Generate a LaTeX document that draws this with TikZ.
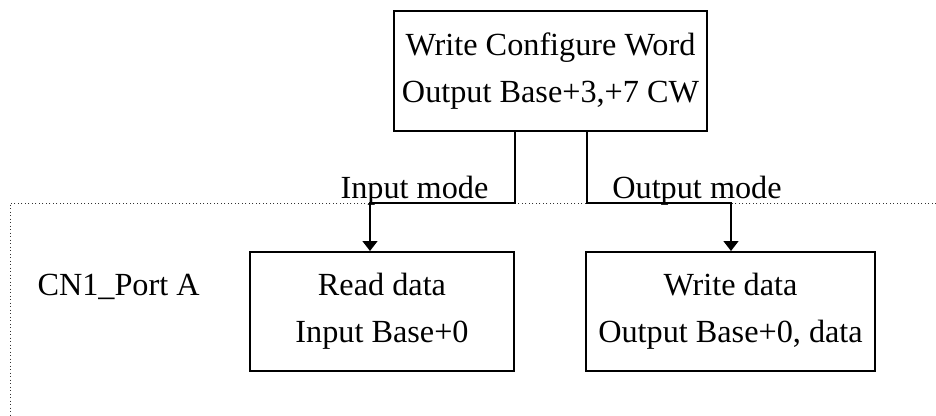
\documentclass[tikz,border=0pt]{standalone}
\usepackage{fontspec}
\setmainfont{Liberation Serif}
\usetikzlibrary{arrows.meta}
\tikzset{
  >={Triangle[length=4pt,width=6pt]},
  x=0.4pt, y=-0.4pt,
}
\tikzstyle{every node}=[font=\fontsize{12.9}{18.8}\selectfont]
\tikzstyle{block}=[draw, line width=0.8pt, align=center, inner sep=0pt]
\tikzstyle{wire}=[line width=0.6pt]
\tikzstyle{region}=[line width=0.4pt, densely dotted, black!80]

\begin{document}
\begin{tikzpicture}
    \useasboundingbox (0,0) rectangle (936,415);
    \draw[region] (936,203) -- (10,203) -- (10,415);
    \node[block, minimum width=125.2pt, minimum height=48pt] (cw) at (550.5,71)
        {Write Configure Word\\Output Base+3,+7 CW};
    \node[block, minimum width=105.6pt, minimum height=47.6pt] (rd) at (382,311.5)
        {Read data\\Input Base+0};
    \node[block, minimum width=115.6pt, minimum height=47.6pt] (wr) at (730.5,311.5)
        {Write data\\Output Base+0, data};
    \node[anchor=base west, inner sep=0pt] (port) at (37,295) {CN1\_Port A};
    \coordinate (inbend) at (515,203);
    \coordinate (indrop) at (370,203);
    \coordinate (outbend) at (587,203);
    \coordinate (outdrop) at (731,203);
    \draw[wire,->] (cw.south -| inbend) -- (inbend) -- (indrop) -- (indrop |- rd.north);
    \draw[wire,->] (cw.south -| outbend) -- (outbend) -- (outdrop) -- (outdrop |- wr.north);
    \node[anchor=base, inner sep=0pt] (inlbl) at (414.5,198) {Input mode};
    \node[anchor=base, inner sep=0pt] (outlbl) at (697,198) {Output mode};
\end{tikzpicture}
\end{document}
